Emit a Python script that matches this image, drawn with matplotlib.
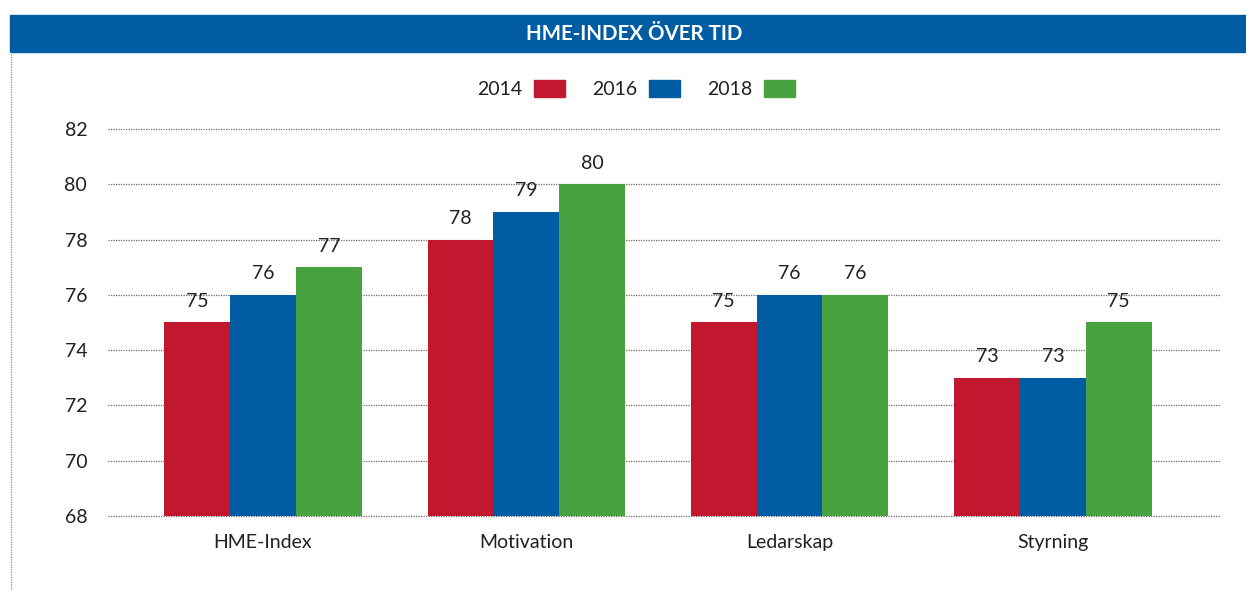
#!/usr/bin/env python3

# HME-index over time, grouped bars per area and year

import numpy as np
import matplotlib
matplotlib.use("Agg")
import matplotlib.pyplot as plt
from matplotlib.patches import Patch, Rectangle
from matplotlib.lines import Line2D

categories = ["HME-Index", "Motivation", "Ledarskap", "Styrning"]
years = ["2014", "2016", "2018"]
values_2014 = [75, 78, 75, 73]
values_2016 = [76, 79, 76, 73]
values_2018 = [77, 80, 76, 75]
yticks = [68, 70, 72, 74, 76, 78, 80, 82]

red = "#C1172F"
blue = "#005CA3"
green = "#48A23F"
text_col = "#231F20"

plt.rcParams['font.family'] = ['Lato', 'DejaVu Sans']

fig = plt.figure(figsize=(12.46, 5.9), dpi=100)
ax = fig.add_axes([108/1246, 1-516/590, (1220-108)/1246, (516-129)/590])

x = np.arange(len(categories))
w = 0.25
series = [values_2014, values_2016, values_2018]
colors = [red, blue, green]
for i, (vals, col) in enumerate(zip(series, colors)):
    bars = ax.bar(x + (i-1)*w, np.array(vals) - 68, width=w, bottom=68,
                  color=col, zorder=3)
    for b, v in zip(bars, vals):
        ax.annotate(str(v), (b.get_x() + b.get_width()/2, v),
                    xytext=(0, 9), textcoords="offset points",
                    ha="center", va="bottom", fontsize=14, color=text_col)

ax.set_ylim(68, 82)
ax.set_xlim(-0.589, 3.635)
ax.set_yticks(yticks)
ax.set_xticks(x)
ax.set_xticklabels(categories)
ax.tick_params(axis="both", length=0, labelsize=14, labelcolor=text_col)
ax.tick_params(axis="y", pad=15)
ax.tick_params(axis="x", pad=13)
ax.grid(axis="y", color="#6d6d6d", linestyle=(0, (1, 1)), linewidth=0.9, zorder=0)
for gl in ax.get_ygridlines():
    gl.set_clip_on(False)
for s in ax.spines.values():
    s.set_visible(False)

# blue title banner
fig.add_artist(Rectangle((10/1246, 1-52/590), 1 - 10/1246, 37/590,
                         transform=fig.transFigure, color=blue, zorder=0))
fig.text(634/1246, 1-34/590, "HME-INDEX ÖVER TID", color="white",
         fontsize=14.8, fontweight="bold", ha="center", va="center")
# dotted frame line on the left
fig.add_artist(Line2D([10.5/1246, 10.5/1246], [0, 1-52/590], transform=fig.transFigure,
                      color="#8a8a8a", linestyle=(0, (1, 1)), linewidth=0.9))

handles = [Patch(color=c) for c in colors]
fig.legend(handles, years, loc="center", bbox_to_anchor=(636/1246, 1-89/590),
           ncol=3, frameon=False, markerfirst=False, fontsize=14,
           handlelength=1.6, handleheight=1.0, handletextpad=0.6,
           columnspacing=1.4, labelcolor=text_col)

fig.savefig("out.png", dpi=100)
